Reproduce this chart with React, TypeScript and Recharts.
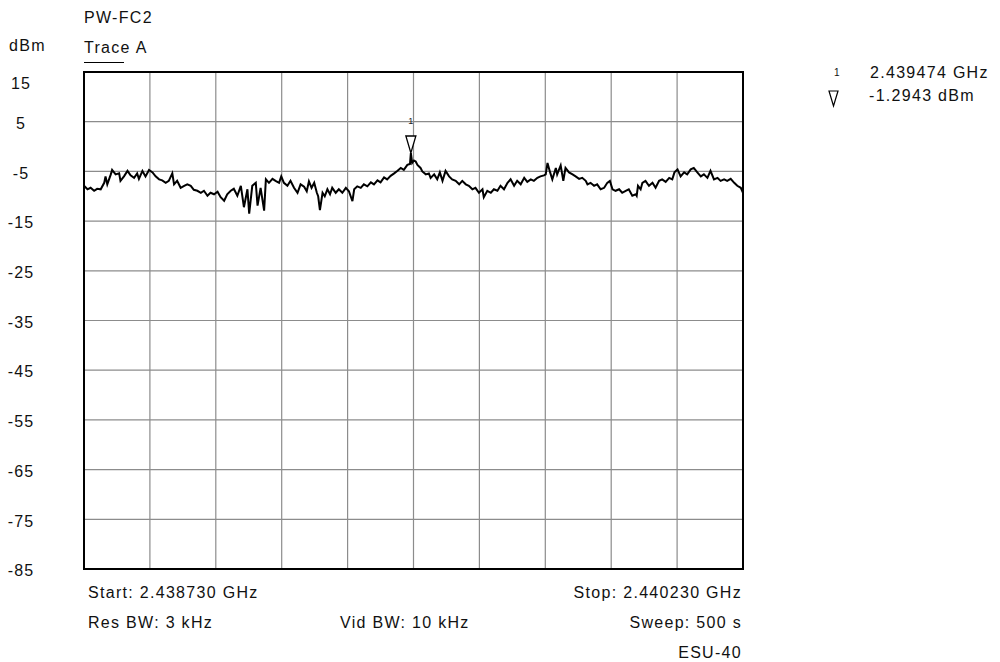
import { LineChart, Line, XAxis, YAxis, CartesianGrid, ReferenceArea, ReferenceDot } from 'recharts'

// sweep: 2.438730 GHz .. 2.440230 GHz, x values are offsets from start in kHz
const startLabel = 'Start: 2.438730 GHz'
const stopLabel = 'Stop: 2.440230 GHz'
const freqTicks = [0, 150, 300, 450, 600, 750, 900, 1050, 1200, 1350, 1500]
const levelTicks = [15, 5, -5, -15, -25, -35, -45, -55, -65, -75, -85]

const offsetsKHz = [
  0, 8, 15, 23, 30, 38, 46, 49, 53, 61, 64, 72, 80, 83, 91, 99, 106, 114, 121, 125,
  133, 140, 148, 156, 163, 171, 178, 186, 193, 201, 205, 212, 220, 228, 235, 243, 250,
  258, 266, 273, 281, 288, 296, 304, 311, 319, 326, 334, 341, 349, 357, 364, 372, 376,
  383, 391, 395, 402, 410, 414, 421, 429, 436, 444, 449, 455, 463, 470, 478, 486, 493, 501,
  507, 512, 518, 524, 530, 533, 537, 543, 548, 554, 560, 565, 573, 580, 588, 596, 603,
  611, 615, 622, 630, 637, 645, 653, 660, 668, 675, 683, 690, 698, 706, 713, 721, 728,
  736, 742, 744, 747, 751,
  755, 759, 766, 770, 778, 785, 789, 797, 804, 810, 816, 823, 831, 838, 846, 854, 861,
  869, 876, 884, 891, 899, 907, 910, 918, 926, 933, 941, 948, 956, 964, 971, 979, 986, 994, 1002,
  1009, 1017, 1024, 1032, 1039, 1047, 1051, 1055, 1061, 1066, 1074, 1077, 1085, 1091, 1096,
  1104, 1112, 1119, 1127, 1134, 1142, 1146, 1153, 1161, 1168, 1176, 1184, 1191, 1197, 1203,
  1210, 1218, 1225, 1233, 1240, 1248, 1256,
  1258, 1261, 1267, 1271, 1278, 1286, 1294, 1301, 1309, 1316, 1324, 1332, 1339, 1344, 1351,
  1358, 1366, 1373, 1381, 1388, 1396, 1404, 1411, 1419, 1426, 1434, 1442, 1449, 1457, 1464,
  1472, 1480, 1487, 1495, 1500,
]

const levelsDbm = [
  -7.9, -8.6, -8.3, -8.9, -8.5, -8.6, -7.3, -6.0, -7.6, -5.6, -4.7, -5.6, -5.4, -6.9, -6.0, -4.9, -5.8, -6.3, -5.4, -6.5,
  -4.9, -6.0, -4.7, -5.2, -6.0, -6.6, -6.8, -7.3, -6.9, -5.4, -7.6, -6.9, -8.3, -7.9, -7.6, -7.9, -8.7,
  -8.9, -9.3, -8.9, -9.9, -9.3, -9.6, -9.1, -10.2, -10.9, -9.6, -8.9, -8.5, -9.9, -7.9, -12.2, -8.6, -13.5,
  -7.9, -7.3, -11.9, -8.3, -12.9, -6.6, -7.3, -6.5, -6.9, -7.3, -6.0, -7.3, -7.9, -6.9, -8.3, -9.3, -7.6, -8.1,
  -9.0, -7.0, -8.3, -7.3, -9.3, -10.0, -12.8, -9.3, -10.0, -8.6, -9.6, -8.3, -9.3, -8.6, -9.3, -8.3, -9.0,
  -11.0, -8.6, -8.0, -8.3, -7.6, -8.0, -7.2, -7.6, -6.8, -7.2, -6.2, -6.6, -5.9, -5.4, -4.9, -4.3, -4.7,
  -3.7, -3.5, -1.3, -3.3, -2.8,
  -3.0, -3.7, -4.3, -5.0, -5.6, -5.4, -6.3, -5.6, -6.6, -5.2, -6.9, -4.9, -6.0, -6.6, -6.9, -7.6, -6.9,
  -7.6, -7.9, -8.6, -8.3, -9.3, -8.6, -10.2, -8.9, -9.3, -8.6, -8.9, -7.9, -8.6, -7.3, -6.6, -7.9, -6.9, -7.6, -6.3,
  -7.1, -6.6, -6.9, -6.3, -6.0, -5.8, -5.6, -3.3, -5.2, -6.6, -4.3, -5.6, -3.8, -6.9, -4.3,
  -5.2, -5.6, -6.0, -6.5, -6.3, -6.9, -7.6, -7.3, -7.9, -7.6, -8.6, -8.3, -7.3, -6.9, -8.6,
  -8.9, -8.6, -9.3, -8.9, -8.6, -9.9, -9.6,
  -9.9, -7.9, -8.6, -7.3, -6.9, -7.9, -7.3, -8.3, -6.9, -6.6, -7.1, -6.3, -6.6, -5.2, -4.6,
  -6.0, -5.2, -5.6, -4.6, -4.3, -5.2, -6.0, -5.6, -6.3, -4.9, -6.6, -6.3, -6.9, -6.6, -6.9,
  -6.5, -7.3, -7.9, -8.3, -9.3,
]

const markerKHz = 744
const markerDbm = -1.2943
const markerFreq = '2.439474 GHz'
const markerLevel = '-1.2943 dBm'

const data = offsetsKHz.map((f, i) => ({ f, level: levelsDbm[i] }))

const font = '"Liberation Sans", Arial, sans-serif'

const LevelTick = ({ y, payload }: any) => (
  <text
    x={21}
    y={y + (payload.value === 15 ? 13 : 3)}
    textAnchor="middle"
    dominantBaseline="middle"
    fontFamily={font}
    fontSize={16}
    letterSpacing={1.2}
    fill="#111"
  >
    {payload.value}
  </text>
)

const MarkerShape = ({ cx, cy }: any) => (
  <g>
    <polygon
      points={`${cx - 5},${cy - 17} ${cx + 5},${cy - 17} ${cx},${cy}`}
      fill="#fff"
      stroke="#000"
      strokeWidth={1.3}
    />
    <text x={cx} y={cy - 29} textAnchor="middle" fontFamily={font} fontSize={9} fill="#222">
      1
    </text>
  </g>
)

const label = (left: number, top: number, text: string, extra: any = {}) => (
  <div
    style={{
      position: 'absolute',
      left,
      top,
      fontFamily: font,
      fontSize: 16,
      letterSpacing: '1.3px',
      color: '#111',
      whiteSpace: 'nowrap',
      lineHeight: '18px',
      ...extra,
    }}
  >
    {text}
  </div>
)

export default function App() {
  return (
    <div style={{ position: 'absolute', left: 0, top: 0, width: 1000, height: 662, background: '#fff' }}>
      <LineChart
        width={1000}
        height={662}
        data={data}
        margin={{ top: 72, right: 257, bottom: 93, left: 0 }}
      >
        <CartesianGrid stroke="#8c8c8c" strokeWidth={1.2} />
        <XAxis dataKey="f" type="number" domain={[0, 1500]} ticks={freqTicks} hide />
        <YAxis
          type="number"
          domain={[-85, 15]}
          ticks={levelTicks}
          width={84}
          axisLine={false}
          tickLine={false}
          tick={<LevelTick />}
          interval={0}
        />
        <ReferenceArea x1={0} x2={1500} y1={-85} y2={15} fill="none" stroke="#000" strokeWidth={2} />
        <Line
          type="linear"
          dataKey="level"
          stroke="#000"
          strokeWidth={2}
          dot={false}
          isAnimationActive={false}
        />
        <ReferenceDot x={markerKHz} y={markerDbm} shape={<MarkerShape />} />
      </LineChart>

      {label(84, 9, 'PW-FC2')}
      {label(9, 37, 'dBm')}
      {label(84, 39, 'Trace A')}
      <div style={{ position: 'absolute', left: 84, top: 62, width: 40, borderTop: '1.5px solid #000' }} />

      <div style={{ position: 'absolute', left: 834, top: 67, fontFamily: font, fontSize: 10, color: '#111' }}>1</div>
      {label(870, 64, markerFreq)}
      <svg style={{ position: 'absolute', left: 827, top: 90 }} width={13} height={18}>
        <polygon points="2,1 11,1 6.5,16" fill="none" stroke="#000" strokeWidth={1.2} />
      </svg>
      {label(869, 87, markerLevel)}

      {label(88, 584, startLabel)}
      {label(0, 584, stopLabel, { right: 258, left: 'auto' })}
      {label(88, 614, 'Res BW: 3 kHz')}
      {label(340, 614, 'Vid BW: 10 kHz')}
      {label(0, 614, 'Sweep: 500 s', { right: 258, left: 'auto' })}
      {label(0, 644, 'ESU-40', { right: 258, left: 'auto' })}
    </div>
  )
}
